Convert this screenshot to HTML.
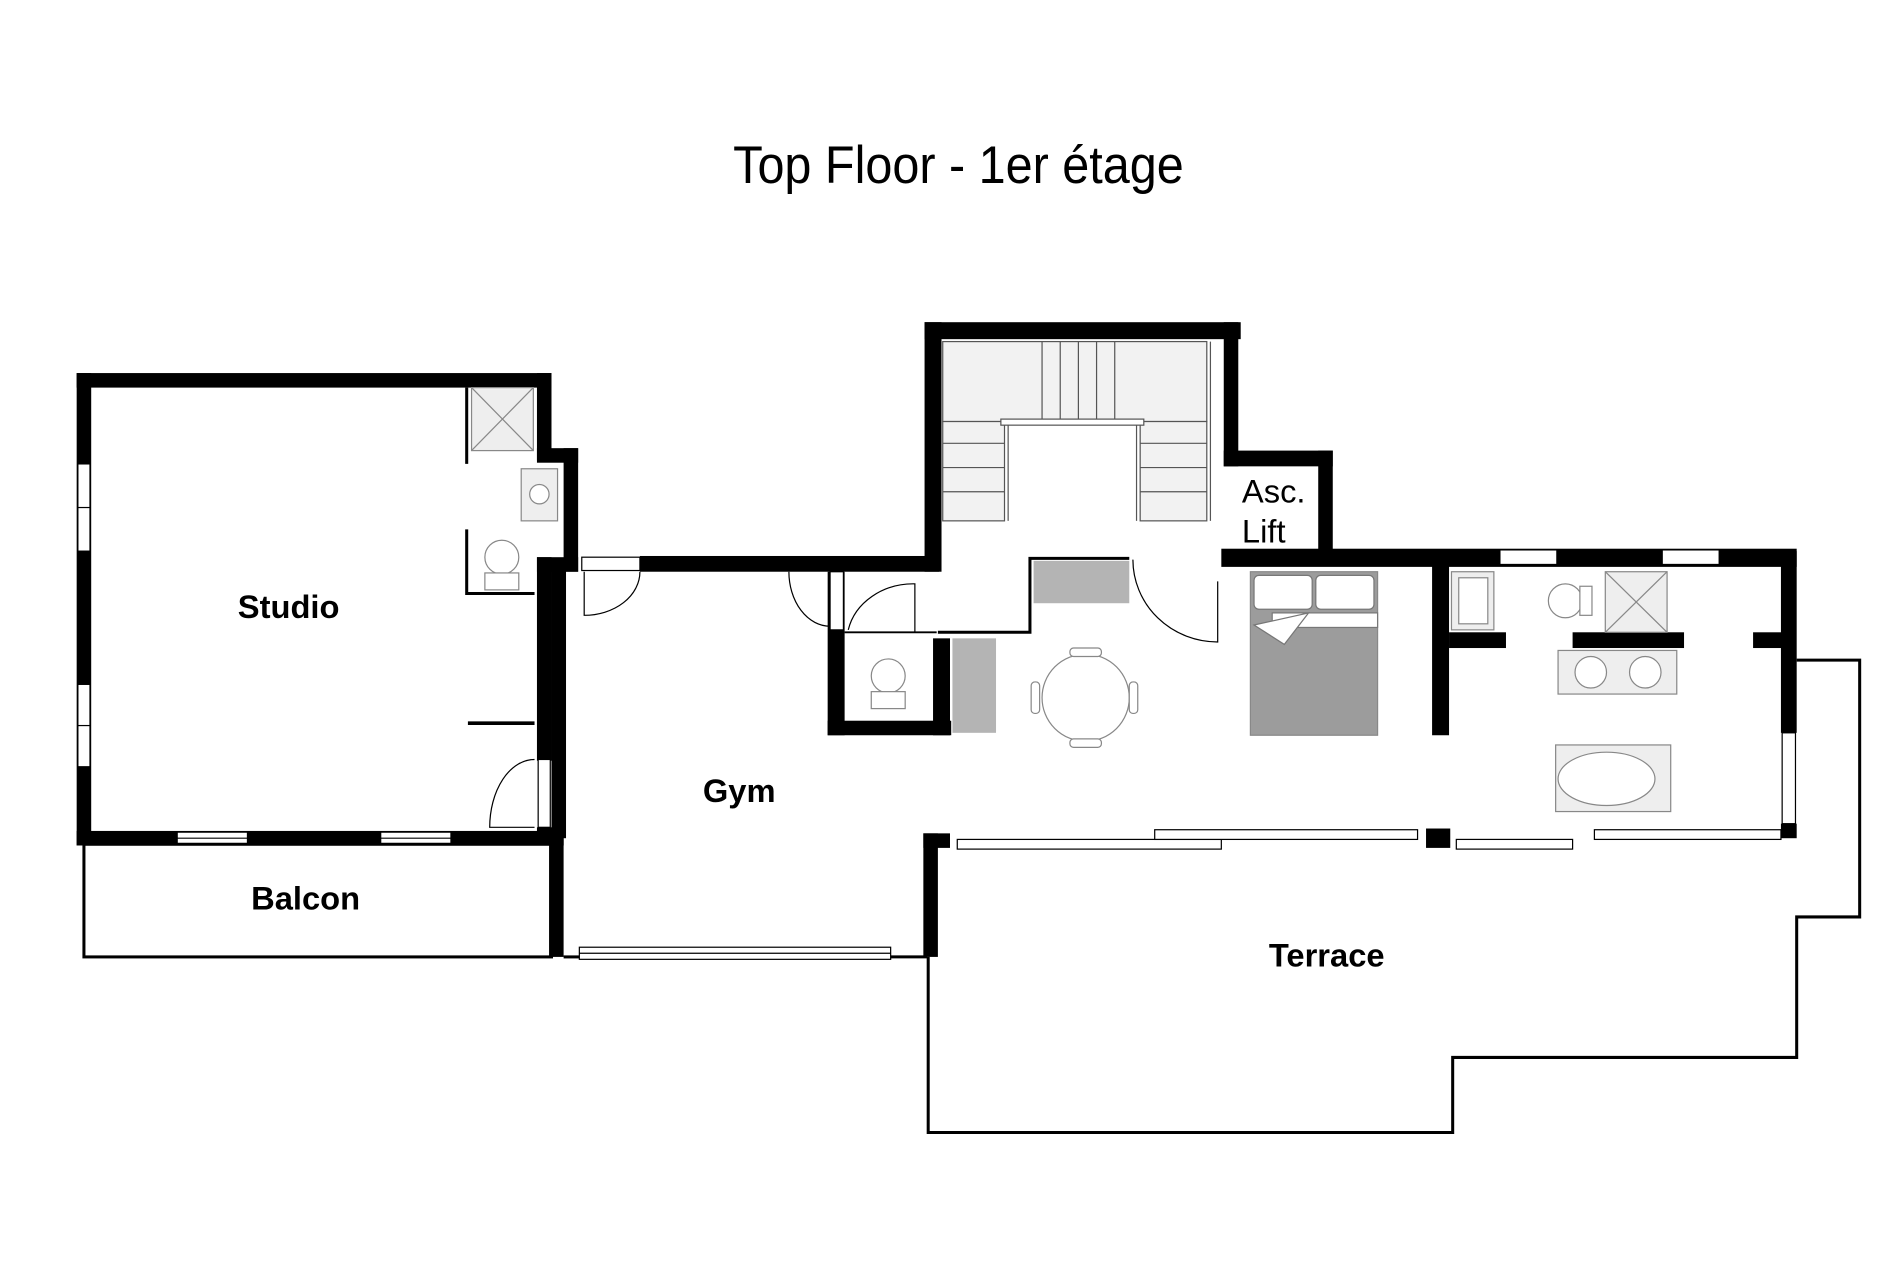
<!DOCTYPE html>
<html><head><meta charset="utf-8"><style>
html,body{margin:0;padding:0;background:#fff;}
svg{display:block;}
text{font-family:"Liberation Sans",sans-serif;}
</style></head><body>
<svg width="1900" height="1267" viewBox="0 0 1568 1046" xmlns="http://www.w3.org/2000/svg">
<rect width="1568" height="1046" fill="#fff"/>
<text x="791" y="151" font-size="44" text-anchor="middle" textLength="372" lengthAdjust="spacingAndGlyphs">Top Floor - 1er étage</text>

<g fill="#000">
<!-- Studio -->
<rect x="63" y="308" width="392" height="12"/>
<rect x="63" y="308" width="12" height="390"/>
<rect x="63" y="686" width="402" height="12"/>
<rect x="443" y="308" width="12" height="72"/>
<rect x="443" y="370" width="34" height="12"/>
<rect x="465" y="370" width="12" height="102"/>
<rect x="443" y="460" width="34" height="12"/>
<rect x="443" y="460" width="12" height="168"/>
<rect x="443" y="683" width="22" height="15"/>
<!-- Balcon / gym left -->
<rect x="453" y="686" width="12" height="104"/>
<rect x="455" y="462" width="12" height="230"/>
<!-- gym top -->
<rect x="528" y="459" width="247" height="13"/>
<!-- stair block -->
<rect x="763" y="266" width="14" height="206"/>
<rect x="763" y="266" width="261" height="14"/>
<rect x="1010" y="266" width="12" height="119"/>
<rect x="1010" y="372" width="90" height="13"/>
<rect x="1088" y="372" width="12" height="90"/>
<rect x="1008" y="453" width="475" height="15"/>
<!-- WC -->
<rect x="683" y="472" width="14" height="135"/>
<rect x="683" y="595" width="102" height="12"/>
<rect x="770" y="527" width="14" height="80"/>
<!-- bedroom/bath walls -->
<rect x="1182" y="455" width="14" height="152"/>
<rect x="1196" y="522" width="47" height="13"/>
<rect x="1298" y="522" width="92" height="13"/>
<rect x="1447" y="522" width="25" height="13"/>
<rect x="1470" y="455" width="13" height="150"/>
<rect x="1470" y="680" width="13" height="12"/>
<rect x="1177" y="684" width="20" height="16"/>
<!-- terrace wall -->
<rect x="762" y="688" width="22" height="12"/>
<rect x="762" y="688" width="12" height="102"/>
</g>

<!-- windows (white panels) -->
<g fill="#fff" stroke="#000" stroke-width="1">
<rect x="64" y="383" width="10" height="72"/>
<rect x="64" y="565" width="10" height="68"/>
<rect x="146" y="687" width="58" height="10"/>
<rect x="314" y="687" width="58" height="10"/>
<rect x="444" y="627" width="10" height="56"/>
<rect x="480" y="460" width="48" height="11"/>
<rect x="685" y="472" width="11" height="48"/>
<rect x="1238" y="454" width="47" height="12"/>
<rect x="1372" y="454" width="47" height="12"/>
<rect x="1471" y="605" width="11" height="75"/>
<rect x="478" y="782" width="257" height="10"/>
<rect x="790" y="693" width="218" height="8"/>
<rect x="953" y="685" width="217" height="8"/>
<rect x="1202" y="693" width="96" height="8"/>
<rect x="1316" y="685" width="154" height="8"/>
</g>
<g stroke="#000" stroke-width="1">
<line x1="64" y1="419" x2="74" y2="419"/><line x1="64" y1="599" x2="74" y2="599"/>
<line x1="146" y1="692" x2="204" y2="692"/><line x1="314" y1="692" x2="372" y2="692"/>
<line x1="478" y1="787" x2="735" y2="787"/>
</g>

<!-- thin lines -->
<g fill="none" stroke="#000">
<rect x="69" y="697" width="386" height="93" stroke-width="2.5"/>
<line x1="465" y1="790" x2="478" y2="790" stroke-width="2.5"/>
<line x1="735" y1="790" x2="765" y2="790" stroke-width="2.5"/>
<polyline points="766,790 766,935 1199,935 1199,873 1483,873 1483,757 1535,757 1535,545 1483,545" stroke-width="2.5"/>
<line x1="385" y1="320" x2="385" y2="383" stroke-width="2.5"/>
<polyline points="385,437 385,490 441,490" stroke-width="2.5"/>
<line x1="386" y1="597" x2="441" y2="597" stroke-width="3"/>
<line x1="697" y1="522" x2="773" y2="522" stroke-width="1.5"/>
<polyline points="774,522 850,522 850,461 932,461" stroke-width="2.5"/>
<!-- door arcs -->
<g stroke-width="1">
<path d="M441,627 A37,56 0 0 0 404,683 L441,683"/>
<path d="M482,472 L482,508 A46,36 0 0 0 528,472"/>
<path d="M685,517 A34,45 0 0 1 651,472"/>
<path d="M700,520 A55,48 0 0 1 755,482 L755,522"/>
<path d="M935,462 A70,68 0 0 0 1005,530 L1005,480"/>
</g>
</g>

<!-- stairs -->
<g stroke="#555" stroke-width="1" fill="#f2f2f2">
<rect x="778" y="282" width="218" height="66"/>
<rect x="778" y="348" width="51" height="82"/>
<rect x="941" y="348" width="55" height="82"/>
<line x1="860" y1="282" x2="860" y2="348"/><line x1="875" y1="282" x2="875" y2="348"/>
<line x1="890" y1="282" x2="890" y2="348"/><line x1="905" y1="282" x2="905" y2="348"/>
<line x1="920" y1="282" x2="920" y2="348"/>
<line x1="778" y1="366" x2="829" y2="366"/><line x1="778" y1="386" x2="829" y2="386"/>
<line x1="778" y1="406" x2="829" y2="406"/>
<line x1="941" y1="366" x2="996" y2="366"/><line x1="941" y1="386" x2="996" y2="386"/>
<line x1="941" y1="406" x2="996" y2="406"/>
<rect x="826" y="346" width="118" height="5" fill="#fff"/>
<line x1="832" y1="351" x2="832" y2="430"/><line x1="938" y1="351" x2="938" y2="430"/>
<line x1="999" y1="282" x2="999" y2="430"/>
</g>

<!-- gray furniture -->
<g fill="#b4b4b4">
<rect x="853" y="463" width="79" height="35"/>
<rect x="786" y="527" width="36" height="78"/>
</g>
<!-- bed -->
<rect x="1032" y="472" width="105" height="135" fill="#9c9c9c" stroke="#888"/>
<rect x="1035" y="475" width="48" height="28" rx="4" fill="#fff" stroke="#777"/>
<rect x="1086" y="475" width="48" height="28" rx="4" fill="#fff" stroke="#777"/>
<rect x="1050" y="506" width="87" height="12" fill="#fff" stroke="#777"/>
<path d="M1035,516 L1080,506 L1060,532 Z" fill="#fff" stroke="#777"/>
<!-- table -->
<g fill="#fff" stroke="#888">
<circle cx="896" cy="576" r="36"/>
<rect x="883" y="535" width="26" height="7" rx="3"/>
<rect x="883" y="610" width="26" height="7" rx="3"/>
<rect x="851" y="563" width="7" height="26" rx="3"/>
<rect x="932" y="563" width="7" height="26" rx="3"/>
</g>
<!-- bathroom fixtures -->
<g fill="#eee" stroke="#888" stroke-width="1">
<rect x="389" y="320" width="51" height="52"/>
<line x1="389" y1="320" x2="440" y2="372"/><line x1="440" y1="320" x2="389" y2="372"/>
<rect x="430" y="387" width="30" height="43"/>
<circle cx="445" cy="408" r="8" fill="#fff"/>
<ellipse cx="414" cy="460" rx="14" ry="14" fill="#fff"/>
<rect x="400" y="473" width="28" height="14" fill="#fff"/>
<ellipse cx="733" cy="558" rx="14" ry="14" fill="#fff"/>
<rect x="719" y="571" width="28" height="14" fill="#fff"/>
<rect x="1198" y="472" width="35" height="48"/>
<rect x="1204" y="477" width="24" height="38" fill="#fff"/>
<circle cx="1292" cy="496" r="14" fill="#fff"/>
<rect x="1304" y="484" width="10" height="24" fill="#fff"/>
<rect x="1325" y="472" width="51" height="50"/>
<line x1="1325" y1="472" x2="1376" y2="522"/><line x1="1376" y1="472" x2="1325" y2="522"/>
<rect x="1286" y="537" width="98" height="36"/>
<circle cx="1313" cy="555" r="13" fill="#fff"/><circle cx="1358" cy="555" r="13" fill="#fff"/>
<rect x="1284" y="615" width="95" height="55"/>
<ellipse cx="1326" cy="643" rx="40" ry="22" fill="#fff"/>
</g>

<g font-weight="bold" font-size="27" text-anchor="middle">
<text x="238" y="510">Studio</text>
<text x="610" y="662">Gym</text>
<text x="252" y="751">Balcon</text>
<text x="1095" y="798">Terrace</text>
</g>
<text x="1025" y="415" font-size="27">Asc.</text>
<text x="1025" y="448" font-size="27">Lift</text>
</svg>
</body></html>
